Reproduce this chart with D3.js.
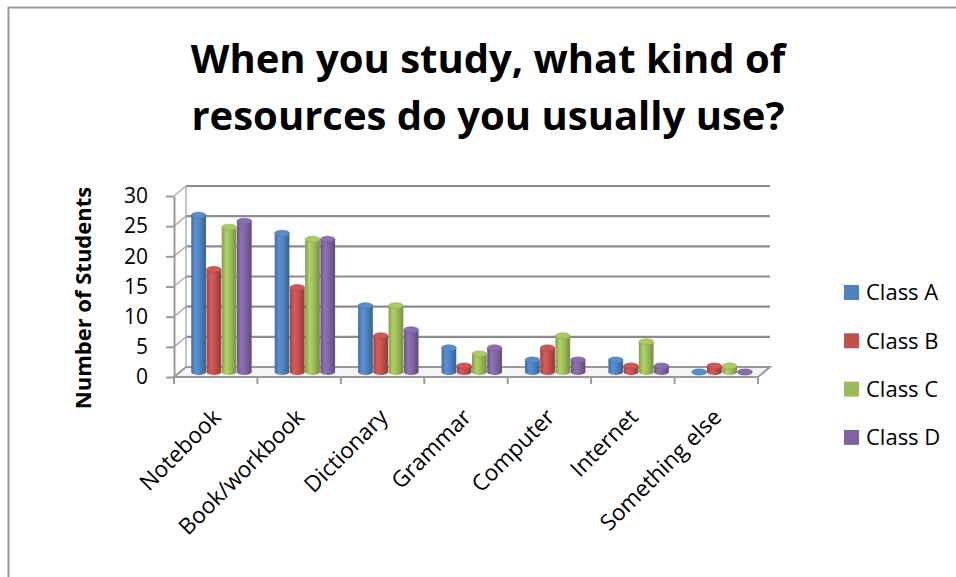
<!DOCTYPE html>
<html>
<head>
<meta charset="utf-8">
<script src="https://cdn.jsdelivr.net/npm/d3@7"></script>
<style>
  html, body { margin: 0; padding: 0; background: #fff; }
  text { font-family: "Open Sans", "Noto Sans", sans-serif; fill: #000; }
</style>
</head>
<body>
<div id="chart"></div>
<script>
// data
var categories = ["Notebook", "Book/workbook", "Dictionary", "Grammar", "Computer", "Internet", "Something else"];
var series = ["Class A", "Class B", "Class C", "Class D"];
var classA = [26, 23, 11, 4, 2, 2, 0];
var classB = [17, 14, 6, 1, 4, 1, 1];
var classC = [24, 22, 11, 3, 6, 5, 1];
var classD = [25, 22, 7, 4, 2, 1, 0];
var yTicks = [0, 5, 10, 15, 20, 25, 30];
var titleLines = ["When you study, what kind of", "resources do you usually use?"];
var yTitle = "Number of Students";

var colors = ["#4F81BD", "#C0504D", "#9BBB59", "#8064A2"];
var values = [classA, classB, classC, classD];

var W = 956, H = 577;
var dx = 12, dy = -10;   // depth of the 3d box

var svg = d3.select("#chart").append("svg")
    .attr("width", W)
    .attr("height", H);

// gradients for the cylinders
var defs = svg.append("defs");
colors.forEach(function (c, i) {
    var base = d3.color(c);
    var g = defs.append("linearGradient")
        .attr("id", "cyl" + i)
        .attr("x1", "0%").attr("x2", "100%")
        .attr("y1", "0%").attr("y2", "0%");
    g.append("stop").attr("offset", "0%").attr("stop-color", base.darker(0.5));
    g.append("stop").attr("offset", "30%").attr("stop-color", base.brighter(0.35));
    g.append("stop").attr("offset", "60%").attr("stop-color", base);
    g.append("stop").attr("offset", "100%").attr("stop-color", base.darker(0.8));
});

// chart frame
svg.append("path")
    .attr("d", "M8.5," + H + " V7.5 H" + W)
    .attr("fill", "none")
    .attr("stroke", "#9a9a9a")
    .attr("stroke-width", 2);

var x = d3.scaleBand().domain(categories).range([174, 758]);
var xs = d3.scaleBand().domain(series).range([0, x.bandwidth()]).paddingInner(0).paddingOuter(0.74);
var y = d3.scaleLinear().domain([0, 30]).range([377, 196]);

var x0 = x.range()[0], x1 = x.range()[1];
var grid = "#8c8c8c";

// back wall gridlines + side wall
var wall = svg.append("g");
yTicks.forEach(function (t) {
    wall.append("line")
        .attr("x1", x0 + dx).attr("x2", x1 + dx)
        .attr("y1", y(t) + dy).attr("y2", y(t) + dy)
        .attr("stroke", grid).attr("stroke-width", 2.2);
    wall.append("line")
        .attr("x1", x0).attr("x2", x0 + dx)
        .attr("y1", y(t)).attr("y2", y(t) + dy)
        .attr("stroke", "#b0b0b0").attr("stroke-width", 1.5);
});
wall.append("line")
    .attr("x1", x0 + dx).attr("x2", x0 + dx)
    .attr("y1", y(0) + dy).attr("y2", y(30) + dy)
    .attr("stroke", "#b0b0b0").attr("stroke-width", 1.5);

// floor
svg.append("path")
    .attr("d", "M" + x0 + "," + y(0) + " L" + x1 + "," + y(0) +
        " L" + (x1 + dx) + "," + (y(0) + dy) + " L" + (x0 + dx) + "," + (y(0) + dy) + "Z")
    .attr("fill", "#f4f4f4")
    .attr("stroke", "#9a9a9a")
    .attr("stroke-width", 2);

// cylinders
var ry = 3;
var bars = svg.append("g");
categories.forEach(function (cat, ci) {
    series.forEach(function (s, si) {
        var v = values[si][ci];
        var bx = x(cat) + xs(s) + dx / 2;
        var bw = xs.bandwidth() - 0.5;
        var yb = y(0) + dy / 2;
        var yt = y(v) + dy / 2;
        var g = bars.append("g");
        g.append("ellipse")
            .attr("cx", bx + bw / 2).attr("cy", yb)
            .attr("rx", bw / 2).attr("ry", ry)
            .attr("fill", "url(#cyl" + si + ")");
        g.append("rect")
            .attr("x", bx).attr("y", yt)
            .attr("width", bw).attr("height", Math.max(0, yb - yt))
            .attr("fill", "url(#cyl" + si + ")");
        g.append("ellipse")
            .attr("cx", bx + bw / 2).attr("cy", yt)
            .attr("rx", bw / 2).attr("ry", ry)
            .attr("fill", d3.color(colors[si]).brighter(0.25))
            .attr("stroke", d3.color(colors[si]).darker(0.3))
            .attr("stroke-width", 0.6);
    });
});

// front y axis
var yAxis = svg.append("g")
    .attr("transform", "translate(" + x0 + ",0)")
    .call(d3.axisLeft(y).tickValues(yTicks).tickSize(8).tickSizeOuter(0).tickPadding(18));
yAxis.select(".domain").attr("stroke", "#9a9a9a").attr("stroke-width", 2);
yAxis.selectAll(".tick line").attr("stroke", "#9a9a9a").attr("stroke-width", 2);
yAxis.selectAll(".tick text")
    .style("font-family", "'Open Sans', sans-serif")
    .style("font-size", "21px")
    .attr("fill", "#000");

// x ticks at the category boundaries
var xt = svg.append("g");
categories.concat([null]).forEach(function (cat) {
    var px = cat === null ? x1 : x(cat);
    xt.append("line")
        .attr("x1", px).attr("x2", px)
        .attr("y1", y(0)).attr("y2", y(0) + 7)
        .attr("stroke", "#9a9a9a").attr("stroke-width", 2);
});

// x labels, rotated
svg.append("g").selectAll("text")
    .data(categories)
    .join("text")
    .attr("transform", function (d) {
        return "translate(" + (x(d) + x.bandwidth() / 2 + 1) + "," + 413 + ") rotate(-45)";
    })
    .attr("text-anchor", "end")
    .attr("dy", "0.35em")
    .style("font-size", "22.5px")
    .text(function (d) { return d; });

// title
svg.append("g").selectAll("text")
    .data(titleLines)
    .join("text")
    .attr("x", 488)
    .attr("y", function (d, i) { return 73 + i * 57; })
    .attr("text-anchor", "middle")
    .style("font-size", "40px")
    .style("font-weight", "bold")
    .text(function (d) { return d; });

// y title
svg.append("text")
    .attr("transform", "translate(91,298) rotate(-90)")
    .attr("text-anchor", "middle")
    .style("font-size", "22px")
    .style("font-weight", "bold")
    .text(yTitle);

// legend
var legend = svg.append("g").selectAll("g")
    .data(series)
    .join("g")
    .attr("transform", function (d, i) { return "translate(844," + (285 + i * 48.3) + ")"; });
legend.append("rect")
    .attr("width", 15).attr("height", 15)
    .attr("fill", function (d, i) { return colors[i]; });
legend.append("text")
    .attr("x", 22).attr("y", 7.5)
    .attr("dy", "0.35em")
    .style("font-size", "22px")
    .text(function (d) { return d; });
</script>
</body>
</html>
